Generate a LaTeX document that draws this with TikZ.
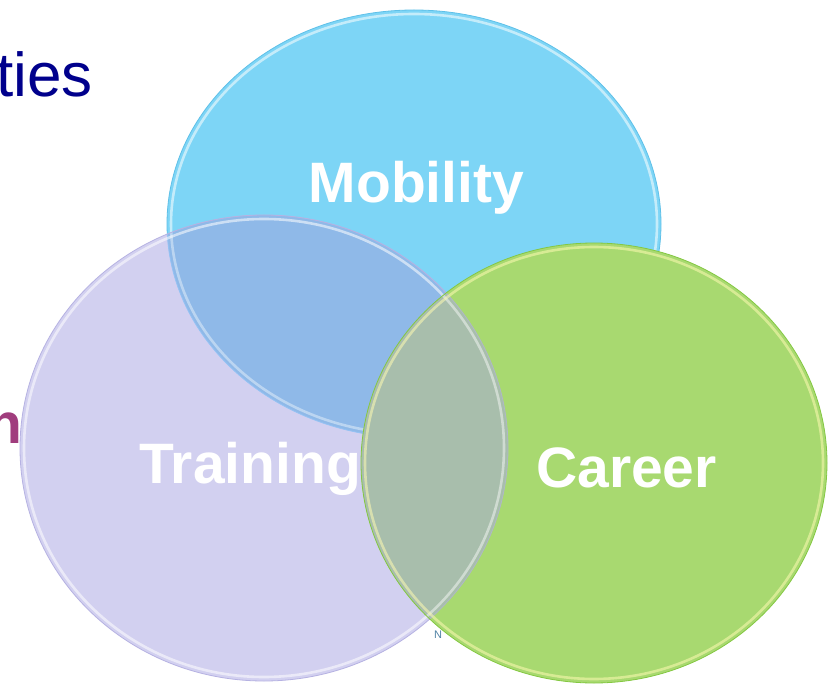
\documentclass[tikz,border=0pt]{standalone}
\usepackage{fontspec}
\setmainfont{Liberation Sans}
\definecolor{mobfill}{RGB}{125,213,246}
\definecolor{mobline}{RGB}{95,192,232}
\definecolor{trfill}{RGB}{210,208,240}
\definecolor{trline}{RGB}{182,178,226}
\definecolor{mtfill}{RGB}{143,185,232}
\definecolor{carfill}{RGB}{168,217,112}
\definecolor{carline}{RGB}{132,200,66}
\definecolor{ctfill}{RGB}{168,190,172}
\definecolor{tiesblue}{RGB}{0,0,140}
\definecolor{npurple}{RGB}{160,60,125}
\definecolor{ntext}{RGB}{80,130,165}
\def\mob{(414,224) ellipse [x radius=247pt, y radius=214pt]}
\def\mobin{(414,224) ellipse [x radius=243pt, y radius=210pt]}
\def\tra{(264,448) ellipse [x radius=244pt, y radius=233pt]}
\def\train{(264,448) ellipse [x radius=240pt, y radius=229pt]}
\def\car{(594,463) ellipse [x radius=233pt, y radius=220pt]}
\def\carin{(594,463) ellipse [x radius=229pt, y radius=216pt]}
\tikzset{
  lbl/.style={text=white, font=\bfseries\fontsize{57}{57}\selectfont, inner sep=0pt},
  rim/.style={draw=white, draw opacity=0.55, line width=2.6pt},
}
\begin{document}
\begin{tikzpicture}[x=1pt,y=-1pt]
\useasboundingbox (0,0) rectangle (837,684);
\clip (0,0) rectangle (837,684);
\fill[white] (0,0) rectangle (837,684);
% side texts
\node[anchor=base east, inner sep=0pt, text=tiesblue, font=\fontsize{62}{62}\selectfont] (ties) at (93,97) {ties};
\node[anchor=base east, inner sep=0pt, text=npurple, font=\bfseries\fontsize{57}{57}\selectfont] (nn) at (23,443) {n};
\node[anchor=base, inner sep=0pt, text=ntext, font=\fontsize{11}{11}\selectfont] (smalln) at (438,638) {N};
% Mobility
\fill[mobfill] \mob;
\path[rim] \mobin;
\draw[mobline, line width=0.8pt] \mob;
\node[lbl, anchor=base] (mobility) at (416.5,203) {Mobility};
% Training
\fill[trfill] \tra;
\begin{scope}
  \clip \tra;
  \fill[mtfill] \mob;
  \path[rim, draw opacity=0.4] \mobin;
  \draw[mobline!80!blue!60!white, line width=0.8pt] \mob;
\end{scope}
\path[rim] \train;
\draw[trline, line width=0.8pt] \tra;
\node[lbl, anchor=base] (training) at (250,483) {Training};
% Career
\fill[carfill] \car;
\begin{scope}
  \clip \car;
  \fill[ctfill] \tra;
  \path[rim, draw opacity=0.45] \train;
  \draw[trline!50!ctfill, line width=0.8pt] \tra;
\end{scope}
\path[rim, draw=white!70!yellow] \carin;
\draw[carline, line width=0.8pt] \car;
\node[lbl, anchor=base] (career) at (626.5,487) {Career};
\end{tikzpicture}
\end{document}
